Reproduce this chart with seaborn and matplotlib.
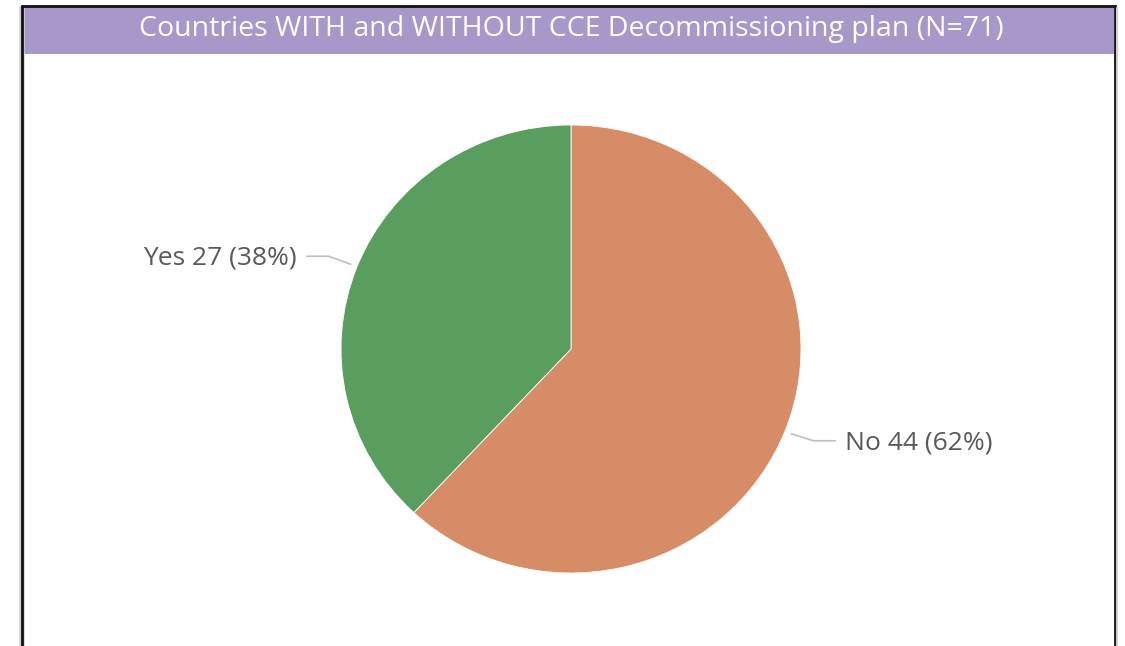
import matplotlib
matplotlib.use("Agg")
import matplotlib.pyplot as plt
import numpy as np
import seaborn as sns

# Data
categories = ['No', 'Yes']
counts = [44, 27]
colors = ['#D68C66', '#5A9E5F']
title = 'Countries WITH and WITHOUT CCE Decommissioning plan (N=71)'

W, H = 1125, 646

sns.set_theme(style="white")
plt.rcParams['font.family'] = ['Open Sans', 'DejaVu Sans']

fig = plt.figure(figsize=(W / 100, H / 100), dpi=100)
fig.patch.set_facecolor('white')

def fx(px):
    return px / W

def fy(py):
    return 1 - py / H

# Frame and title bar
frame = fig.add_axes([0, 0, 1, 1], zorder=0)
frame.set_xlim(0, W)
frame.set_ylim(H, 0)
frame.axis('off')
frame.add_patch(plt.Rectangle((22, 7), 1092, 47, color='#A897C9', lw=0))
frame.plot([21.5, 21.5], [H + 5, 6], color='#D0D0D0', lw=4, solid_capstyle='butt')
frame.plot([21.5, 21.5, 1115, 1115], [H + 5, 6, 6, H + 5], color='#111111', lw=2,
           solid_joinstyle='miter')
frame.plot([1117, 1117], [8, H + 5], color='#CFCFCF', lw=1.5)
frame.text(571, 29, title, color='white', fontsize=20.5, ha='center', va='center')

# Pie axes (bounding box of the pie in pixels)
left, top, right, bottom = 341, 125, 801, 573
ax = fig.add_axes([fx(left), fy(bottom), fx(right - left), (bottom - top) / H], zorder=1)
wedges, _ = ax.pie(counts, colors=colors, startangle=90, counterclock=False, radius=1,
                   wedgeprops=dict(edgecolor='white', linewidth=0.6))
ax.set_xlim(-1, 1)
ax.set_ylim(-1, 1)
ax.set_aspect('auto')
ax.axis('off')

# Leader lines and labels
total = sum(counts)
cx, cy = (left + right) / 2, (top + bottom) / 2
rx, ry = (right - left) / 2, (bottom - top) / 2
for w, cat, n in zip(wedges, categories, counts):
    ang = np.deg2rad((w.theta1 + w.theta2) / 2)
    px0 = cx + 1.03 * rx * np.cos(ang)
    py0 = cy - 1.03 * ry * np.sin(ang)
    side = 1 if np.cos(ang) > 0 else -1
    px1 = px0 + side * 22
    py1 = py0 + (7 if side > 0 else -8)
    px2 = px1 + side * 22
    frame.plot([px0, px1, px2], [py0, py1, py1], color='#BFBFBF', lw=1.2)
    label = f'{cat} {n} ({n / total:.0%})'
    frame.text(px2 + side * 10, py1 + 2, label, color='#595959', fontsize=19,
               ha='left' if side > 0 else 'right', va='center')

fig.savefig('out.png', dpi=100, facecolor='white')
